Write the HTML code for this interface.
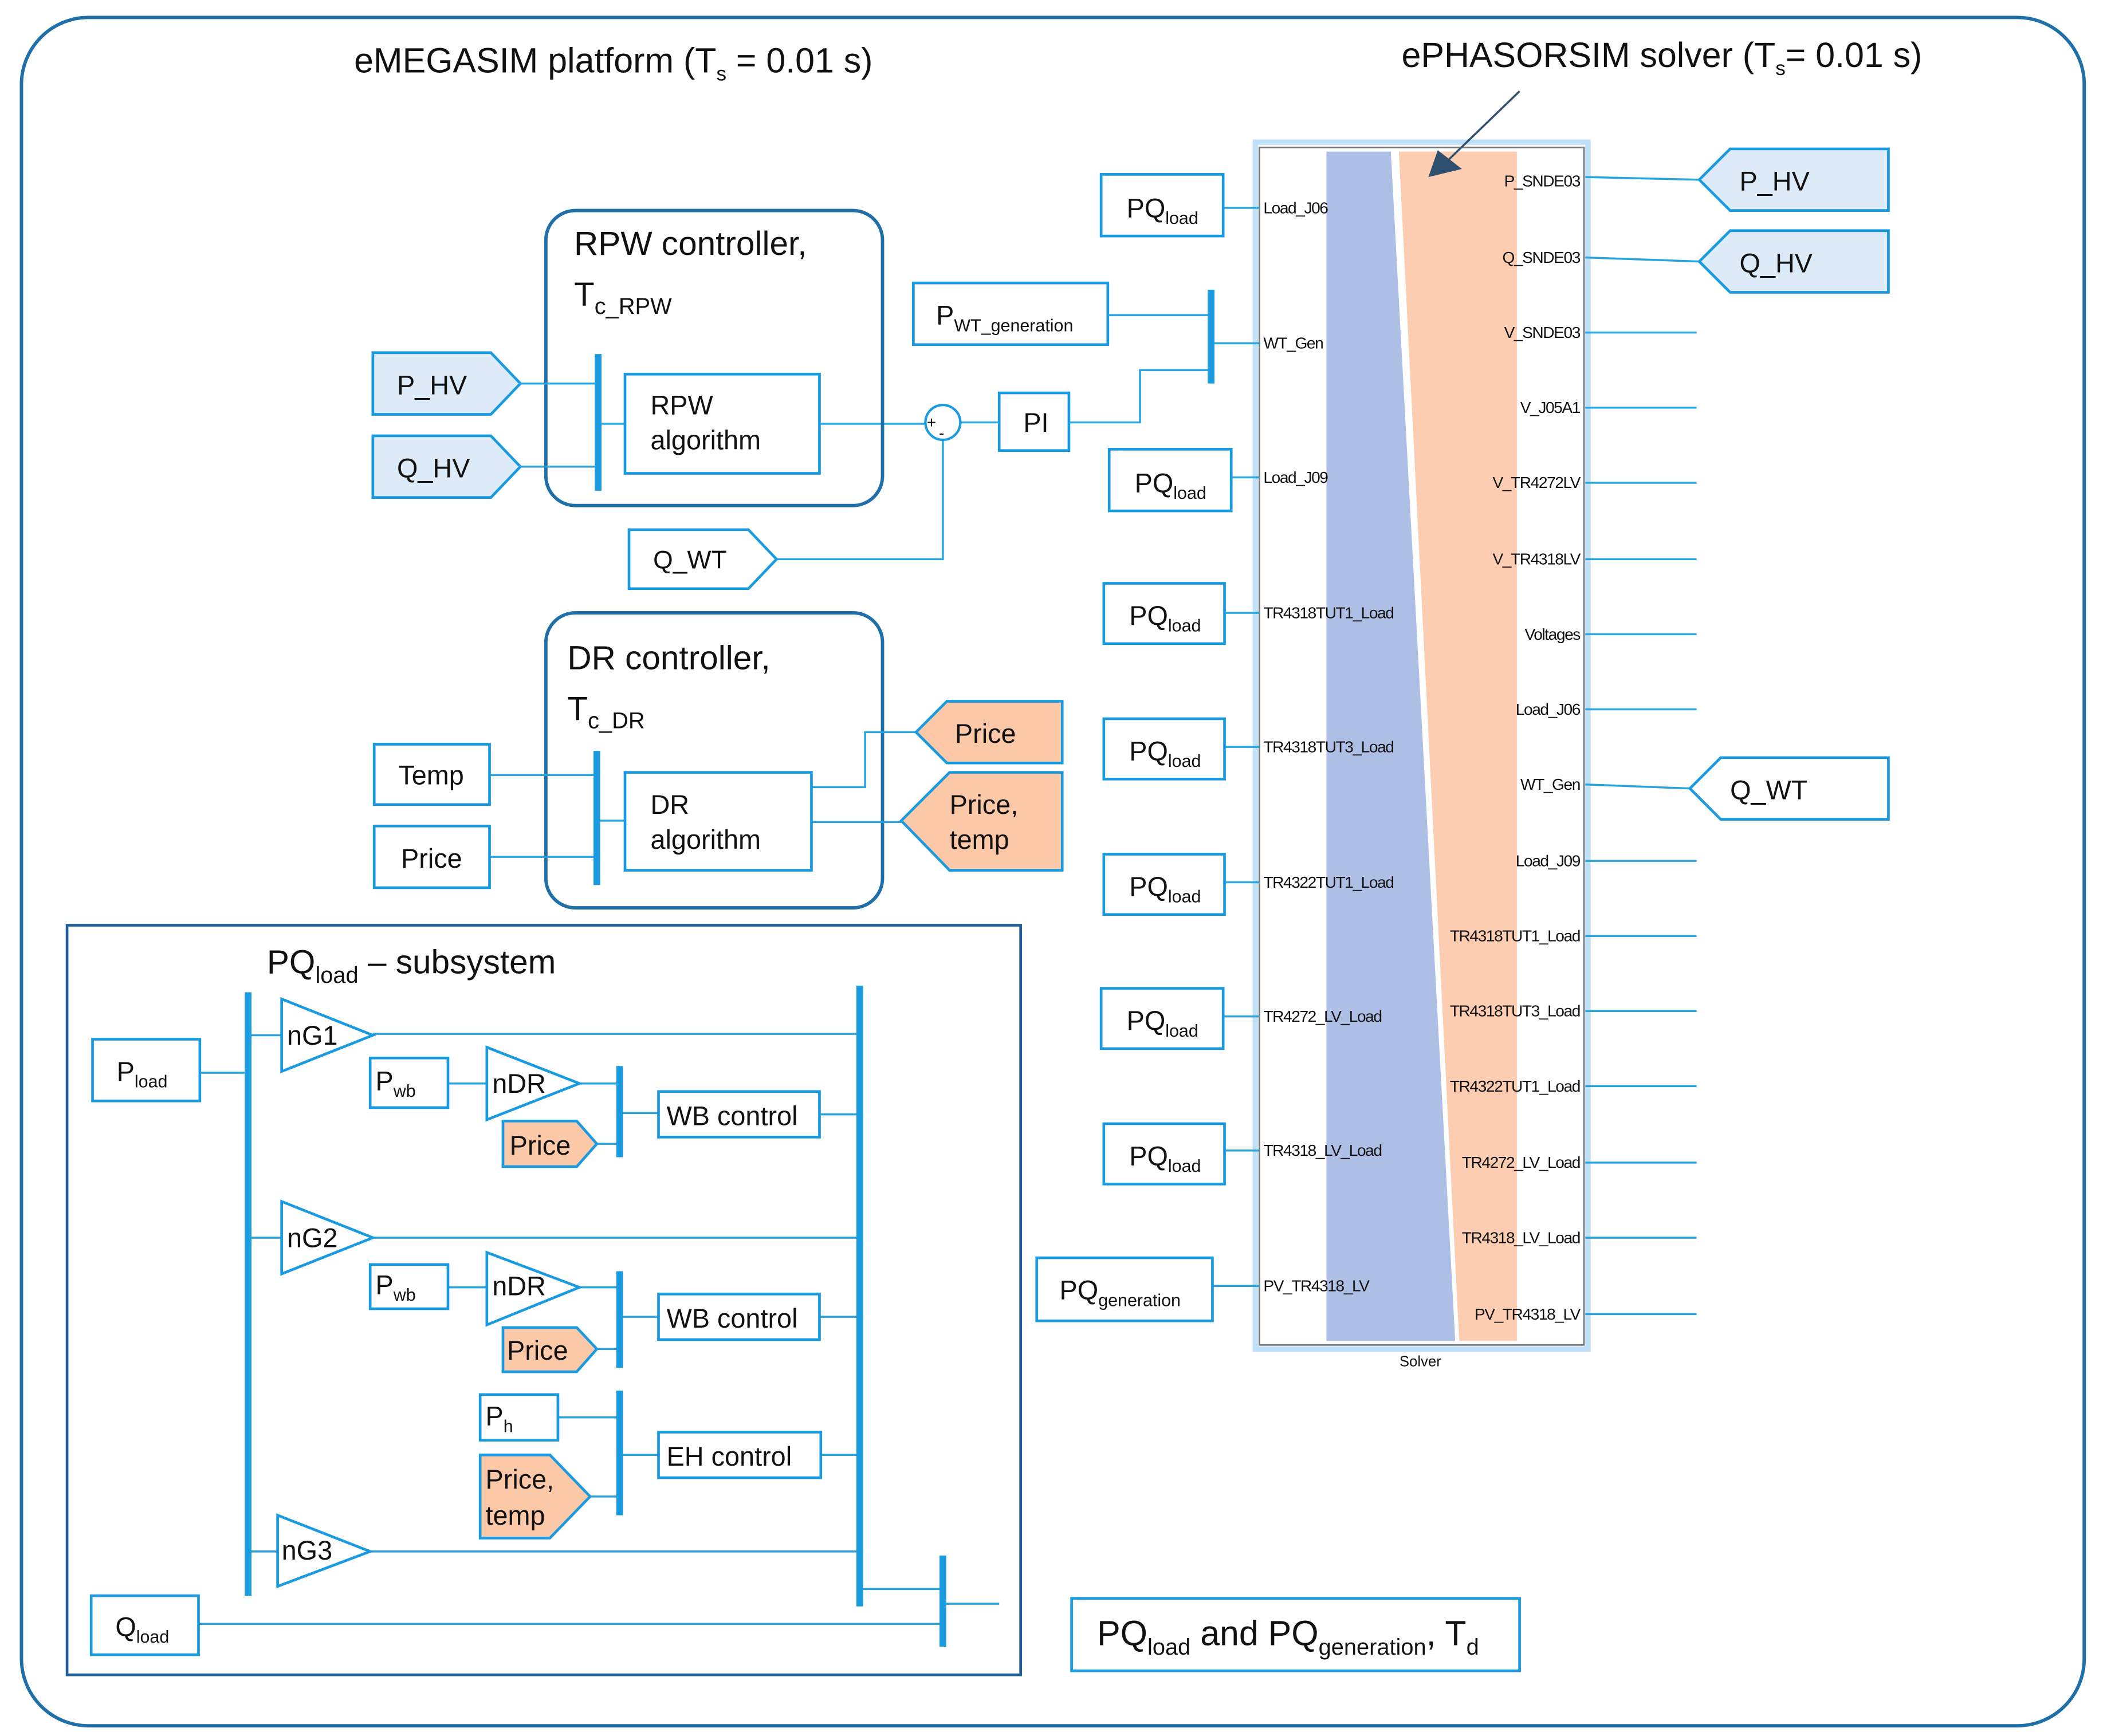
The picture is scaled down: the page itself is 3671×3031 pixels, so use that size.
<!DOCTYPE html>
<html><head><meta charset="utf-8"><style>
html,body{margin:0;padding:0;background:#fff;}
svg{display:block;}
text{font-family:"Liberation Sans Narrow","Liberation Sans",sans-serif;fill:#111;}
.b{fill:#fff;stroke:#1a9be0;stroke-width:2;}
.l{stroke:#29a3dc;stroke-width:1.5;fill:none;}
.bar{stroke:#1a9be0;stroke-width:5;}
.p{font-family:"Liberation Sans",sans-serif;font-size:12px;letter-spacing:-0.6px;}
.t{font-size:20px;}
</style></head><body>
<svg width="3671" height="3031" viewBox="0 0 1568 1294.6" xmlns="http://www.w3.org/2000/svg">
<rect width="1568" height="1295" fill="#fff"/>
<rect x="16" y="13" width="1538" height="1274" rx="50" fill="none" stroke="#1f6fa8" stroke-width="2.5"/>
<text x="264" y="54" font-size="26">eMEGASIM platform (T<tspan font-size="15" dy="6">s</tspan><tspan dy="-6"> = 0.01 s)</tspan></text>
<text x="1045" y="50" font-size="26">ePHASORSIM solver (T<tspan font-size="15" dy="6">s</tspan><tspan dy="-6">= 0.01 s)</tspan></text>

<!-- Solver -->
<rect x="936" y="106" width="248" height="900" fill="none" stroke="#bfe0f7" stroke-width="4"/>
<rect x="939" y="110" width="242" height="893" fill="#fff" stroke="#777" stroke-width="1.2"/>
<polygon points="989,113 1037,113 1085,1000 989,1000" fill="#aebfe6"/>
<polygon points="1043,113 1131,113 1131,1000 1088,1000" fill="#fdcdb1"/>
<line x1="1133" y1="68" x2="1075" y2="124" stroke="#2f4f6f" stroke-width="1.5"/>
<polygon points="1065,132 1072,112 1090,126" fill="#2f4f6f"/>
<text x="1059" y="1019" font-size="11" text-anchor="middle" font-family="Liberation Sans">Solver</text>
<g class="p">
<text x="942" y="159">Load_J06</text>
<text x="942" y="260">WT_Gen</text>
<text x="942" y="360">Load_J09</text>
<text x="942" y="461">TR4318TUT1_Load</text>
<text x="942" y="561">TR4318TUT3_Load</text>
<text x="942" y="662">TR4322TUT1_Load</text>
<text x="942" y="762">TR4272_LV_Load</text>
<text x="942" y="862">TR4318_LV_Load</text>
<text x="942" y="963">PV_TR4318_LV</text>
</g>
<g class="p" text-anchor="end">
<text x="1178" y="139">P_SNDE03</text>
<text x="1178" y="196">Q_SNDE03</text>
<text x="1178" y="252">V_SNDE03</text>
<text x="1178" y="308">V_J05A1</text>
<text x="1178" y="364">V_TR4272LV</text>
<text x="1178" y="421">V_TR4318LV</text>
<text x="1178" y="477">Voltages</text>
<text x="1178" y="533">Load_J06</text>
<text x="1178" y="589">WT_Gen</text>
<text x="1178" y="646">Load_J09</text>
<text x="1178" y="702">TR4318TUT1_Load</text>
<text x="1178" y="758">TR4318TUT3_Load</text>
<text x="1178" y="814">TR4322TUT1_Load</text>
<text x="1178" y="871">TR4272_LV_Load</text>
<text x="1178" y="927">TR4318_LV_Load</text>
<text x="1178" y="984">PV_TR4318_LV</text>
</g>
<g class="l">
<path d="M1182 132 L1267 134 M1182 192 L1267 195 M1182 248H1265 M1182 304H1265 M1182 360H1265 M1182 417H1265 M1182 473H1265 M1182 529H1265 M1182 585 L1260 588 M1182 642H1265 M1182 698H1265 M1182 754H1265 M1182 810H1265 M1182 867H1265 M1182 923H1265 M1182 980H1265"/>
</g>
<polygon class="b" points="1267,134 1290,111 1408,111 1408,157 1290,157" style="fill:#dcebf7"/>
<text x="1297" y="142" class="t">P_HV</text>
<polygon class="b" points="1267,195 1290,172 1408,172 1408,218 1290,218" style="fill:#dcebf7"/>
<text x="1297" y="203" class="t">Q_HV</text>
<polygon class="b" points="1260,588 1283,565 1408,565 1408,611 1283,611"/>
<text x="1290" y="596" class="t">Q_WT</text>

<!-- PQload boxes -->
<g class="l">
<path d="M912 155H939 M918 356H939 M913 457H939 M913 557H939 M913 658H939 M912 758H939 M913 858H939 M904 959H939"/>
</g>
<rect class="b" x="821" y="130" width="91" height="46"/><text x="840" y="162" class="t">PQ<tspan font-size="13" dy="5">load</tspan></text>
<rect class="b" x="827" y="335" width="91" height="46"/><text x="846" y="367" class="t">PQ<tspan font-size="13" dy="5">load</tspan></text>
<rect class="b" x="823" y="435" width="90" height="45"/><text x="842" y="466" class="t">PQ<tspan font-size="13" dy="5">load</tspan></text>
<rect class="b" x="823" y="536" width="90" height="45"/><text x="842" y="567" class="t">PQ<tspan font-size="13" dy="5">load</tspan></text>
<rect class="b" x="823" y="637" width="90" height="45"/><text x="842" y="668" class="t">PQ<tspan font-size="13" dy="5">load</tspan></text>
<rect class="b" x="821" y="737" width="91" height="45"/><text x="840" y="768" class="t">PQ<tspan font-size="13" dy="5">load</tspan></text>
<rect class="b" x="823" y="838" width="90" height="45"/><text x="842" y="869" class="t">PQ<tspan font-size="13" dy="5">load</tspan></text>
<rect class="b" x="773" y="938" width="131" height="47"/><text x="790" y="969" class="t">PQ<tspan font-size="13" dy="5">generation</tspan></text>

<!-- PWT generation / PI -->
<rect class="b" x="681" y="211" width="145" height="46"/><text x="698" y="242" class="t">P<tspan font-size="13" dy="5">WT_generation</tspan></text>
<path class="l" d="M826 235H903 M905 256H939 M797 315H850V276H903 M611 316H690 M716 315H745 M579 417H703V328"/>
<line class="bar" x1="903" y1="216" x2="903" y2="286"/>
<rect class="b" x="745" y="293" width="52" height="43"/><text x="763" y="322" class="t">PI</text>
<circle cx="703" cy="315" r="13" fill="#fff" stroke="#1a9be0" stroke-width="1.8"/>
<text x="691" y="319" font-size="12">+</text><text x="700" y="327" font-size="12">-</text>

<!-- RPW controller -->
<rect x="407" y="157" width="251" height="220" rx="22" fill="none" stroke="#1f6fa8" stroke-width="2.5"/>
<text x="428" y="190" font-size="25">RPW controller,</text>
<text x="428" y="228" font-size="25">T<tspan font-size="17" dy="6">c_RPW</tspan></text>
<path class="l" d="M388 286H446 M388 348H446 M448 316H466"/>
<line class="bar" x1="446" y1="264" x2="446" y2="366"/>
<polygon class="b" points="278,263 366,263 388,286 366,309 278,309" style="fill:#dcebf7"/>
<text x="296" y="294" class="t">P_HV</text>
<polygon class="b" points="278,325 366,325 388,348 366,371 278,371" style="fill:#dcebf7"/>
<text x="296" y="356" class="t">Q_HV</text>
<rect class="b" x="466" y="279" width="145" height="74"/>
<text x="485" y="309" class="t">RPW</text><text x="485" y="335" class="t">algorithm</text>
<polygon class="b" points="469,395 558,395 579,417 558,439 469,439"/>
<text x="487" y="424" font-size="19">Q_WT</text>

<!-- DR controller -->
<rect x="407" y="457" width="251" height="220" rx="22" fill="none" stroke="#1f6fa8" stroke-width="2.5"/>
<text x="423" y="499" font-size="25">DR controller,</text>
<text x="423" y="537" font-size="25">T<tspan font-size="17" dy="6">c_DR</tspan></text>
<path class="l" d="M365 578H445 M365 639H445 M447 612H466 M605 587H645V546H683 M605 613H672"/>
<line class="bar" x1="445" y1="560" x2="445" y2="660"/>
<rect class="b" x="279" y="555" width="86" height="45"/><text x="297" y="585" class="t">Temp</text>
<rect class="b" x="279" y="616" width="86" height="46"/><text x="299" y="647" class="t">Price</text>
<rect class="b" x="466" y="576" width="139" height="73"/>
<text x="485" y="607" class="t">DR</text><text x="485" y="633" class="t">algorithm</text>
<polygon class="b" points="683,546 706,523 792,523 792,569 706,569" style="fill:#fbc8a8"/>
<text x="712" y="554" class="t">Price</text>
<polygon class="b" points="672,612 708,576 792,576 792,649 708,649" style="fill:#fbc8a8"/>
<text x="708" y="607" class="t">Price,</text><text x="708" y="633" class="t">temp</text>

<!-- PQload subsystem -->
<rect x="50" y="690" width="711" height="559" fill="none" stroke="#1f5f9a" stroke-width="2"/>
<text x="199" y="726" font-size="25">PQ<tspan font-size="17" dy="7">load</tspan><tspan dy="-7"> – subsystem</tspan></text>
<path class="l" d="M149 800H185 M185 772H210 M278 771H641 M334 808H363 M432 808H462 M445 853H462 M464 830H491 M611 831H641 M185 923H210 M278 923H641 M334 960H363 M432 960H462 M445 1006H462 M464 982H491 M611 982H641 M416 1057H462 M440 1116H462 M464 1085H491 M612 1085H641 M185 1157H207 M276 1157H641 M641 1185H703 M705 1196H745 M148 1211H703"/>
<line class="bar" x1="185" y1="740" x2="185" y2="1190"/>
<line class="bar" x1="641" y1="735" x2="641" y2="1198"/>
<line class="bar" x1="462" y1="795" x2="462" y2="863"/>
<line class="bar" x1="462" y1="948" x2="462" y2="1020"/>
<line class="bar" x1="462" y1="1037" x2="462" y2="1130"/>
<line class="bar" x1="703" y1="1160" x2="703" y2="1228"/>
<rect class="b" x="69" y="775" width="80" height="46"/><text x="87" y="806" class="t">P<tspan font-size="13" dy="5">load</tspan></text>
<polygon class="b" points="210,745 210,799 278,772"/><text x="214" y="779" class="t">nG1</text>
<rect class="b" x="276" y="789" width="58" height="37"/><text x="280" y="813" class="t">P<tspan font-size="13" dy="5">wb</tspan></text>
<polygon class="b" points="363,781 363,835 432,808"/><text x="367" y="815" class="t">nDR</text>
<polygon class="b" points="375,836 430,836 445,853 430,870 375,870" style="fill:#fbc8a8"/><text x="380" y="861" class="t">Price</text>
<rect class="b" x="491" y="814" width="120" height="34"/><text x="497" y="839" class="t">WB control</text>
<polygon class="b" points="210,896 210,950 278,923"/><text x="214" y="930" class="t">nG2</text>
<rect class="b" x="276" y="943" width="58" height="33"/><text x="280" y="965" class="t">P<tspan font-size="13" dy="5">wb</tspan></text>
<polygon class="b" points="363,934 363,988 432,960"/><text x="367" y="966" class="t">nDR</text>
<polygon class="b" points="375,990 430,990 445,1006 430,1023 375,1023" style="fill:#fbc8a8"/><text x="378" y="1014" class="t">Price</text>
<rect class="b" x="491" y="965" width="120" height="34"/><text x="497" y="990" class="t">WB control</text>
<rect class="b" x="358" y="1040" width="58" height="34"/><text x="362" y="1063" class="t">P<tspan font-size="13" dy="5">h</tspan></text>
<polygon class="b" points="358,1085 410,1085 440,1116 410,1147 358,1147" style="fill:#fbc8a8"/>
<text x="362" y="1110" class="t">Price,</text><text x="362" y="1137" class="t">temp</text>
<rect class="b" x="491" y="1068" width="121" height="34"/><text x="497" y="1093" class="t">EH control</text>
<polygon class="b" points="207,1130 207,1183 276,1157"/><text x="210" y="1163" class="t">nG3</text>
<rect class="b" x="68" y="1190" width="80" height="44"/><text x="86" y="1220" class="t">Q<tspan font-size="13" dy="5">load</tspan></text>

<rect class="b" x="799" y="1192" width="334" height="54"/>
<text x="818" y="1227" font-size="26">PQ<tspan font-size="17" dy="7">load</tspan><tspan dy="-7"> and PQ</tspan><tspan font-size="17" dy="7">generation</tspan><tspan dy="-7">, T</tspan><tspan font-size="17" dy="7">d</tspan></text>
</svg>
</body></html>
